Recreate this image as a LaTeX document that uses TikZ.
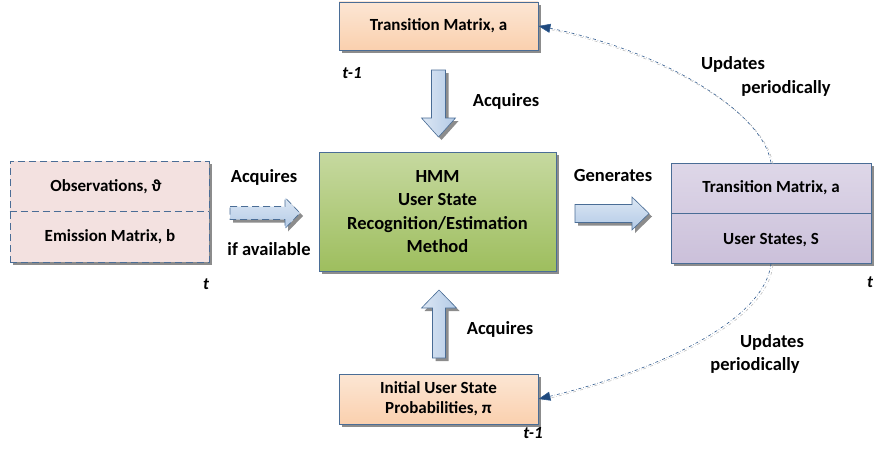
\documentclass[tikz,border=0pt]{standalone}
\usepackage{fontspec}
\setmainfont{Carlito}
\usetikzlibrary{shadows,arrows.meta}
\definecolor{bord}{HTML}{4A6D96}
\definecolor{peachA}{HTML}{FCE6D4}
\definecolor{peachB}{HTML}{FAD0AE}
\definecolor{greenA}{HTML}{C6D9A0}
\definecolor{greenB}{HTML}{9EBE5E}
\definecolor{pinkA}{HTML}{F3E1E0}
\definecolor{lavA}{HTML}{DED7E8}
\definecolor{lavB}{HTML}{CBC0DA}
\definecolor{arrA}{HTML}{DCE7F4}
\definecolor{arrB}{HTML}{B3CAE6}
\definecolor{curveblue}{HTML}{2F5A8E}
\definecolor{headblue}{HTML}{1F497D}
\tikzset{
  x=1pt,y=-1pt,
  shad/.style={drop shadow={shadow xshift=3pt,shadow yshift=-3pt,fill=black!45,opacity=1}},
  longdash/.style={dash pattern=on 7pt off 4pt},
  box/.style={draw=bord,line width=0.8pt,shad,inner sep=0pt,font=\bfseries\fontsize{17}{20}\selectfont,align=center},
  peach/.style={box,top color=peachA,bottom color=peachB,minimum width=199pt,minimum height=48pt},
  txt/.style={font=\bfseries\fontsize{17}{20}\selectfont,align=center,inner sep=0pt},
  lbl/.style={font=\bfseries\fontsize{18.5}{22}\selectfont,align=center,inner sep=0pt},
  ttxt/.style={font=\bfseries\itshape\fontsize{17}{18}\selectfont,inner sep=0pt},
  blockarrow/.style={draw=bord,line width=0.6pt,shad,top color=arrA,bottom color=arrB},
  upd/.style={dash dot,line width=0.6pt,draw=curveblue},
  updsh/.style={dash dot,line width=0.6pt,draw=black!25},
}
\begin{document}
\begin{tikzpicture}
\useasboundingbox (0,0) rectangle (874,452);
% top box
\node[peach] (ta) at (438.5,26) {Transition Matrix, a};
\node[ttxt] (t1a) at (352,73) {t-1};
% bottom box
\node[peach,minimum height=50pt] (ip) at (438.5,399) {Initial User State\\Probabilities, π};
\node[ttxt] (t1b) at (533,433) {t-1};
% green box
\node[box,top color=greenA,bottom color=greenB,minimum width=237pt,minimum height=119pt,font=\bfseries\fontsize{18.5}{23.5}\selectfont] (hmm) at (437.5,211.5)
  {HMM\\User State\\Recognition/Estimation\\Method};
% left box
\node[box,longdash,fill=pinkA,minimum width=199pt,minimum height=101pt] (left) at (109.5,211.5) {};
\draw[bord,longdash,line width=0.8pt] (left.west) -- (left.east);
\node[txt] (obs) at (106,187) {Observations, ϑ};
\node[txt] (emi) at (110,237) {Emission Matrix, b};
\node[ttxt] (tl) at (206,284) {t};
% right box
\node[box,top color=lavA,bottom color=lavB,minimum width=200pt,minimum height=100pt] (right) at (771,213) {};
\draw[bord,line width=0.8pt] (right.west) -- (right.east);
\node[txt] (tm) at (771,188) {Transition Matrix, a};
\node[txt] (us) at (771,240) {User States, S};
\node[ttxt] (tr) at (870,282) {t};
% block arrows
\coordinate (dAc) at (438.5,103.5);
\begin{scope}[shift={(dAc)},rotate=-90]
  \path[blockarrow,left color=arrA,right color=arrB] (-33.5,-7) -- (14.5,-7) -- (14.5,-17) -- (33.5,0) -- (14.5,17) -- (14.5,7) -- (-33.5,7) -- cycle;
\end{scope}
\node[lbl] (acqT) at (506,101) {Acquires};
\coordinate (uAc) at (439,324);
\begin{scope}[shift={(uAc)},rotate=90]
  \path[blockarrow,left color=arrA,right color=arrB] (-34,-6.5) -- (16,-6.5) -- (16,-17.5) -- (34,0) -- (16,17.5) -- (16,6.5) -- (-34,6.5) -- cycle;
\end{scope}
\node[lbl] (acqB) at (500,329) {Acquires};
\coordinate (lAc) at (265,213);
\begin{scope}[shift={(lAc)}]
  \path[blockarrow,longdash] (-35,-6.5) -- (20,-6.5) -- (20,-15.5) -- (35,0) -- (20,15.5) -- (20,6.5) -- (-35,6.5) -- cycle;
\end{scope}
\node[lbl] (acqL) at (264,177) {Acquires};
\node[lbl] (ifav) at (269,249) {if available};
\coordinate (gAc) at (612,213.5);
\begin{scope}[shift={(gAc)}]
  \path[blockarrow] (-37,-9) -- (20,-9) -- (20,-16.5) -- (37,0) -- (20,16.5) -- (20,9) -- (-37,9) -- cycle;
\end{scope}
\node[lbl] (gen) at (613,175) {Generates};
% update curves
\coordinate (ttop) at (right.north);
\coordinate (tbot) at (right.south);
\draw[updsh] ([xshift=2pt,yshift=-1.5pt]ttop) .. controls (764,111.5) and (662,51.5) .. ([xshift=2pt,yshift=-1.5pt]ta.east);
\draw[upd,-{Triangle[length=12pt,width=9pt,fill=headblue]}] (ttop) .. controls (762,110) and (660,50) .. (ta.east);
\draw[updsh] ([xshift=2pt,yshift=-1.5pt]tbot) .. controls (767,321.5) and (662,371.5) .. ([xshift=2pt,yshift=-1.5pt]ip.east);
\draw[upd,-{Triangle[length=12pt,width=9pt,fill=headblue]}] (tbot) .. controls (765,320) and (660,370) .. (ip.east);
\node[lbl] (up1) at (733,64) {Updates};
\node[lbl] (pe1) at (786,88) {periodically};
\node[lbl] (up2) at (772,342) {Updates};
\node[lbl] (pe2) at (755,365) {periodically};
\end{tikzpicture}
\end{document}
